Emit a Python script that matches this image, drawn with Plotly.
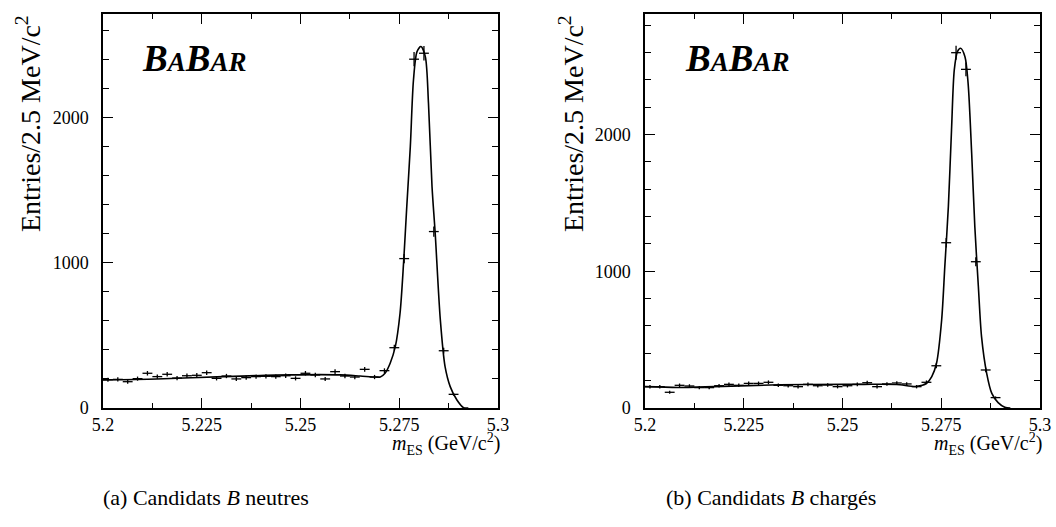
import numpy as np
import plotly.graph_objects as go

# ---------------- data ----------------
bin_width = 0.0025
bin_start = 5.2

# neutral B candidates (panel a), counts per 2.5 MeV bin
counts_neutral = [195, 197, 181, 202, 239, 216, 232, 206, 222, 225,
                  243, 204, 220, 200, 209, 216, 218, 216, 222, 204,
                  239, 227, 200, 250, 220, 213, 266, 213, 257, 415,
                  1028, 2400, 2441, 1214, 394, 94]

# charged B candidates (panel b)
counts_charged = [156, 156, 115, 166, 161, 149, 149, 163, 173, 166,
                  180, 180, 188, 166, 163, 156, 173, 163, 168, 156,
                  163, 173, 185, 156, 176, 183, 176, 156, 188, 309,
                  1209, 2599, 2477, 1070, 278, 76]

# fit curves
fit_neutral_x = [5.2000, 5.2136, 5.2305, 5.2474, 5.2600, 5.2651, 5.2690, 5.2702,
                 5.2714, 5.2727, 5.2740, 5.2752, 5.2761, 5.2769, 5.2778, 5.2786,
                 5.2795, 5.2805, 5.2816, 5.2824, 5.2833, 5.2841, 5.2854, 5.2866,
                 5.2879, 5.2896, 5.2913, 5.2925]
fit_neutral_y = [193, 200, 216, 228, 228, 220, 213, 213,
                 239, 308, 422, 652, 1000, 1385, 1798, 2257,
                 2452, 2487, 2418, 2097, 1523, 1202, 606, 284,
                 147, 55, 2, 0]

fit_charged_x = [5.2000, 5.2083, 5.2175, 5.2340, 5.2507, 5.2553, 5.2637, 5.2688,
                 5.2713, 5.2726, 5.2738, 5.2751, 5.2759, 5.2768, 5.2776, 5.2783,
                 5.2791, 5.2799, 5.2810, 5.2818, 5.2827, 5.2835, 5.2844, 5.2852,
                 5.2865, 5.2878, 5.2894, 5.2911, 5.2925]
fit_charged_y = [156, 150, 156, 170, 173, 173, 172, 158,
                 181, 229, 327, 644, 1034, 1473, 2034, 2473,
                 2607, 2631, 2570, 2375, 1863, 1326, 887, 522,
                 254, 107, 39, 5, 0]

x_tick_vals = [5.2, 5.225, 5.25, 5.275, 5.3]
x_tick_text = ["5.2", "5.225", "5.25", "5.275", "5.3"]
y_tick_vals = [0, 1000, 2000]
y_tick_text = ["0", "1000", "2000"]

y_max_neutral = 2711
y_max_charged = 2882

captions = ["(a) Candidats <i>B</i> neutres", "(b) Candidats <i>B</i> chargés"]

# ---------------- figure ----------------
W, H = 1056, 527
FONT = "Times New Roman, Liberation Serif, serif"

def px_x(p):
    return p / W

def px_y(p):
    return 1 - p / H

panels = [
    dict(counts=counts_neutral, fx=fit_neutral_x, fy=fit_neutral_y,
         dom=[px_x(103), px_x(498)], ymax=y_max_neutral, xa="x", ya="y"),
    dict(counts=counts_charged, fx=fit_charged_x, fy=fit_charged_y,
         dom=[px_x(645), px_x(1040)], ymax=y_max_charged, xa="x2", ya="y2"),
]

fig = go.Figure()
for p in panels:
    n = len(p["counts"])
    centers = [bin_start + bin_width * (i + 0.5) for i in range(n)]
    fig.add_trace(go.Scatter(
        x=centers, y=p["counts"], mode="markers",
        marker=dict(size=1, color="black"),
        error_x=dict(type="constant", value=bin_width / 2, width=0,
                     color="black", thickness=1.3),
        error_y=dict(type="data", array=list(np.sqrt(p["counts"])), width=0,
                     color="black", thickness=1.3),
        xaxis=p["xa"], yaxis=p["ya"], showlegend=False, hoverinfo="skip"))
    fig.add_trace(go.Scatter(
        x=p["fx"], y=p["fy"], mode="lines",
        line=dict(color="black", width=1.6, shape="spline", smoothing=0.8),
        xaxis=p["xa"], yaxis=p["ya"], showlegend=False, hoverinfo="skip"))

axis_common = dict(showgrid=False, zeroline=False, showline=True, linecolor="black",
                   linewidth=1.5, mirror="ticks", ticks="inside", tickcolor="black",
                   automargin=False,
                   tickfont=dict(family=FONT, size=18, color="black"))

y_dom = [px_y(408), px_y(14)]
for k, p in enumerate(panels):
    sx = "" if k == 0 else "2"
    fig.update_layout(**{
        "xaxis" + sx: dict(axis_common, domain=p["dom"], range=[5.2, 5.3],
                           tickvals=x_tick_vals, ticktext=x_tick_text, ticklen=10,
                           ticklabelstandoff=0,
                           minor=dict(tickvals=[5.2125, 5.2375, 5.2625, 5.2875],
                                      ticklen=5, ticks="inside", tickcolor="black"),
                           anchor="y" + sx),
        "yaxis" + sx: dict(axis_common, domain=y_dom, range=[0, p["ymax"]],
                           tickvals=y_tick_vals, ticktext=y_tick_text, ticklen=10,
                           ticklabelstandoff=9,
                           minor=dict(dtick=200, ticklen=6, ticks="inside",
                                      tickcolor="black"),
                           anchor="x" + sx),
    })

annotations = []
for k, (ytx, xtx, logo_x, cap_x) in enumerate([(28, 502, 140, 101), (571, 1044, 683, 664)]):
    annotations.append(dict(
        x=px_x(ytx), y=px_y(124), xref="paper", yref="paper",
        text="Entries/2.5 MeV/c<sup>2</sup>", textangle=-90, showarrow=False,
        font=dict(family=FONT, size=28, color="black"), xanchor="center", yanchor="middle"))
    annotations.append(dict(
        x=px_x(xtx), y=px_y(444), xref="paper", yref="paper",
        text="<i>m</i><sub>ES</sub> (GeV/c<sup>2</sup>)", showarrow=False,
        font=dict(family=FONT, size=20, color="black"), xanchor="right", yanchor="middle"))
    annotations.append(dict(
        x=px_x(logo_x), y=px_y(59), xref="paper", yref="paper",
        text="<b><i>B<span style='font-size:27px'>A</span>B<span style='font-size:27px'>AR</span></i></b>",
        showarrow=False, font=dict(family=FONT, size=37, color="black"),
        xanchor="left", yanchor="middle"))
    annotations.append(dict(
        x=px_x(cap_x), y=px_y(497), xref="paper", yref="paper",
        text=captions[k], showarrow=False,
        font=dict(family=FONT, size=22, color="black"), xanchor="left", yanchor="middle"))

fig.update_layout(width=W, height=H, autosize=False,
                  margin=dict(l=0, r=0, t=0, b=0, pad=0),
                  paper_bgcolor="white", plot_bgcolor="white",
                  font=dict(family=FONT, color="black"),
                  annotations=annotations)

fig.write_html("out.html", config={"displayModeBar": False},
               post_script="document.body.style.margin='0px';document.body.style.padding='0px';")
